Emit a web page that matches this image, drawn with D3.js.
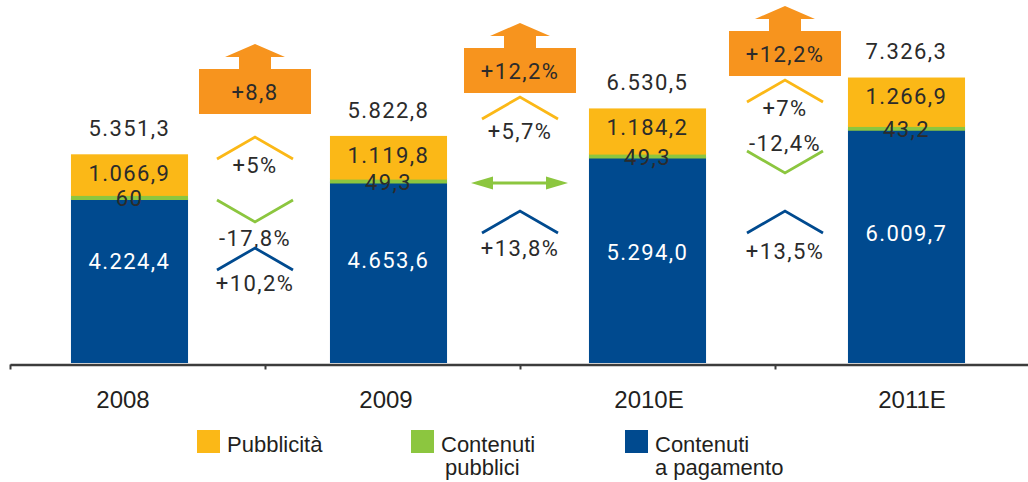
<!DOCTYPE html>
<html><head><meta charset="utf-8">
<script src="https://cdn.jsdelivr.net/npm/d3@7"></script>
<style>
html,body{margin:0;padding:0;background:#fff;}
svg{display:block;}
.num{font-family:Roboto,"Noto Sans",sans-serif;font-size:22px;letter-spacing:1.4px;fill:#2b2b2b;}
.lab{font-family:"Liberation Sans",Arial,sans-serif;fill:#231f20;}
</style></head>
<body><svg id="c" width="1028" height="482"></svg>
<script>
// ---- data ----
const categories = ["2008", "2009", "2010E", "2011E"];
const seriesNames = ["Pubblicità", "Contenuti pubblici", "Contenuti a pagamento"];
const pagamento = [4224.4, 4653.6, 5294.0, 6009.7];
const pubblici = [60, 49.3, 49.3, 43.2];
const pubblicita = [1066.9, 1119.8, 1184.2, 1266.9];
const totals = [5351.3, 5822.8, 6530.5, 7326.3];
const gaps = ["2008-2009", "2009-2010", "2010-2011"];
const growthTotalLabels = ["+8,8", "+12,2%", "+12,2%"];
const growthPubblicita = [5, 5.7, 7];
const growthPubblici = [-17.8, 0, -12.4];
const growthPagamento = [10.2, 13.8, 13.5];

// ---- layout (not data) ----
const colors = {pub: "#FBB817", pubblici: "#8CC63F", pag: "#004A8F", orange: "#F7941E"};
const blueLabelOffset = [63, 78, 95, 104];
const gapLayout = [
  {box: 69, pubPeak: 137, pubLab: 165, grVert: 222, grLab: 238, bluePeak: 248, blueLab: 283},
  {box: 48, pubPeak: 97, pubLab: 131, grVert: 183, grLab: 0, bluePeak: 211, blueLab: 248},
  {box: 31, pubPeak: 80, pubLab: 108, grVert: 173, grLab: 143, bluePeak: 211, blueLab: 251}
];

const loc = d3.formatLocale({decimal: ",", thousands: ".", grouping: [3], currency: ["", ""], minus: "-"});
const f1 = loc.format(",.1f");
const f1t = loc.format(",.1~f");
const fg = v => loc.format("+.1~f")(v) + "%";

const svg = d3.select("#c");
const baseY = 363;
const y = d3.scaleLinear().domain([0, 7500]).range([baseY, baseY - 0.039 * 7500]);
const x = d3.scaleBand().domain(categories).range([0, 1036]).paddingInner(0.548).paddingOuter(0.274);
const xLab = d3.scalePoint().domain(categories).range([123, 912]);
const xGap = d3.scalePoint().domain(gaps).range([255, 785]);
const xTick = d3.scaleLinear().domain([0, 4]).range([10, 1030]);

// stacked data
const rows = categories.map((c, i) => ({cat: c, pag: pagamento[i], pubblici: pubblici[i], pub: pubblicita[i], total: totals[i]}));
const stack = d3.stack().keys(["pag", "pubblici", "pub"])(rows);
const colorOf = {pag: colors.pag, pubblici: colors.pubblici, pub: colors.pub};

const gBars = svg.append("g");
stack.forEach(layer => {
  if (layer.key === "pubblici") {
    // thin layer drawn as a band centred on its stacked position
    gBars.selectAll(null).data(layer).enter().append("line")
      .attr("x1", d => x(d.data.cat))
      .attr("x2", d => x(d.data.cat) + x.bandwidth())
      .attr("y1", d => (y(d[0]) + y(d[1])) / 2)
      .attr("y2", d => (y(d[0]) + y(d[1])) / 2)
      .attr("stroke", colorOf[layer.key])
      .attr("stroke-width", 6);
  } else {
    gBars.selectAll(null).data(layer).enter().append("rect")
      .attr("x", d => x(d.data.cat))
      .attr("width", x.bandwidth())
      .attr("y", d => y(d[1]))
      .attr("height", d => y(d[0]) - y(d[1]))
      .attr("fill", colorOf[layer.key]);
  }
});

// axis
const axis = d3.axisBottom(xTick).tickValues([0, 1, 2, 3]).tickFormat("").tickSizeOuter(0).tickSizeInner(5);
const gAxis = svg.append("g").attr("transform", `translate(0,${baseY + 1.5})`).call(axis);
gAxis.select(".domain").attr("stroke", "#3c3c3c").attr("stroke-width", 2.5);
gAxis.selectAll(".tick line").attr("stroke", "#3c3c3c").attr("stroke-width", 2);

// year labels
svg.selectAll(null).data(categories).enter().append("text")
  .attr("class", "lab").attr("x", d => xLab(d)).attr("y", 408)
  .attr("text-anchor", "middle").style("font-size", "24px").text(d => d);

// value labels
const cx = d => x(d.cat) + x.bandwidth() / 2;
svg.selectAll(null).data(rows).enter().append("text").attr("class", "num")
  .attr("x", cx).attr("y", d => y(d.total) - 18).attr("text-anchor", "middle").text(d => f1(d.total));
svg.selectAll(null).data(rows).enter().append("text").attr("class", "num")
  .attr("x", cx).attr("y", d => y(d.total) + 27).attr("text-anchor", "middle").text(d => f1(d.pub));
svg.selectAll(null).data(rows).enter().append("text").attr("class", "num")
  .attr("x", cx).attr("y", d => (y(d.pag) + y(d.pag + d.pubblici)) / 2 + 9).attr("text-anchor", "middle").text(d => f1t(d.pubblici));
svg.selectAll(null).data(rows).enter().append("text").attr("class", "num")
  .style("fill", "#fff")
  .attr("x", cx).attr("y", (d, i) => y(d.pag) + blueLabelOffset[i] + 8).attr("text-anchor", "middle").text(d => f1(d.pag));

// growth annotations
gaps.forEach((g, i) => {
  const c = xGap(g);
  const L = gapLayout[i];
  const t = L.box;
  const p = d3.path();
  p.moveTo(c - 56, t); p.lineTo(c - 16, t); p.lineTo(c - 16, t - 12); p.lineTo(c - 30, t - 12);
  p.lineTo(c, t - 25); p.lineTo(c + 30, t - 12); p.lineTo(c + 16, t - 12); p.lineTo(c + 16, t);
  p.lineTo(c + 56, t); p.lineTo(c + 56, t + 45); p.lineTo(c - 56, t + 45); p.closePath();
  svg.append("path").attr("d", p.toString()).attr("fill", colors.orange);
  svg.append("text").attr("class", "num").attr("x", c).attr("y", t + 31).attr("text-anchor", "middle").text(growthTotalLabels[i]);

  const chevron = (v, vy, col) => {
    const dir = v > 0 ? 1 : -1;
    svg.append("path").attr("d", d3.line()([[c - 38, vy + dir * 22], [c, vy], [c + 38, vy + dir * 22]]))
      .attr("fill", "none").attr("stroke", col).attr("stroke-width", 2.8);
  };
  chevron(growthPubblicita[i], L.pubPeak, colors.pub);
  svg.append("text").attr("class", "num").attr("x", c).attr("y", L.pubLab + 8).attr("text-anchor", "middle").text(fg(growthPubblicita[i]));
  if (growthPubblici[i] === 0) {
    const yy = L.grVert;
    svg.append("line").attr("x1", c - 40).attr("x2", c + 40).attr("y1", yy).attr("y2", yy)
      .attr("stroke", colors.pubblici).attr("stroke-width", 3);
    svg.append("path").attr("d", d3.line()([[c - 49, yy], [c - 27, yy - 6.5], [c - 27, yy + 6.5]]) + "Z").attr("fill", colors.pubblici);
    svg.append("path").attr("d", d3.line()([[c + 48, yy], [c + 26, yy - 6.5], [c + 26, yy + 6.5]]) + "Z").attr("fill", colors.pubblici);
  } else {
    chevron(growthPubblici[i], L.grVert, colors.pubblici);
    svg.append("text").attr("class", "num").attr("x", c).attr("y", L.grLab + 8).attr("text-anchor", "middle").text(fg(growthPubblici[i]));
  }
  chevron(growthPagamento[i], L.bluePeak, colors.pag);
  svg.append("text").attr("class", "num").attr("x", c).attr("y", L.blueLab + 8).attr("text-anchor", "middle").text(fg(growthPagamento[i]));
});

// legend
const legendLines = [["Pubblicità"], ["Contenuti", "pubblici"], ["Contenuti", "a pagamento"]];
const legendColors = [colors.pub, colors.pubblici, colors.pag];
const xLeg = d3.scalePoint().domain(seriesNames).range([197, 625]);
const gl = svg.append("g");
seriesNames.forEach((s, i) => {
  const lx = xLeg(s);
  gl.append("rect").attr("x", lx).attr("y", 430).attr("width", 23).attr("height", 23).attr("fill", legendColors[i]);
  legendLines[i].forEach((ln, k) => {
    gl.append("text").attr("class", "lab").style("font-size", "22px")
      .attr("x", lx + 30 + (k > 0 && i === 1 ? 4 : 0)).attr("y", 452 + k * 23).text(ln);
  });
});
</script></body></html>
